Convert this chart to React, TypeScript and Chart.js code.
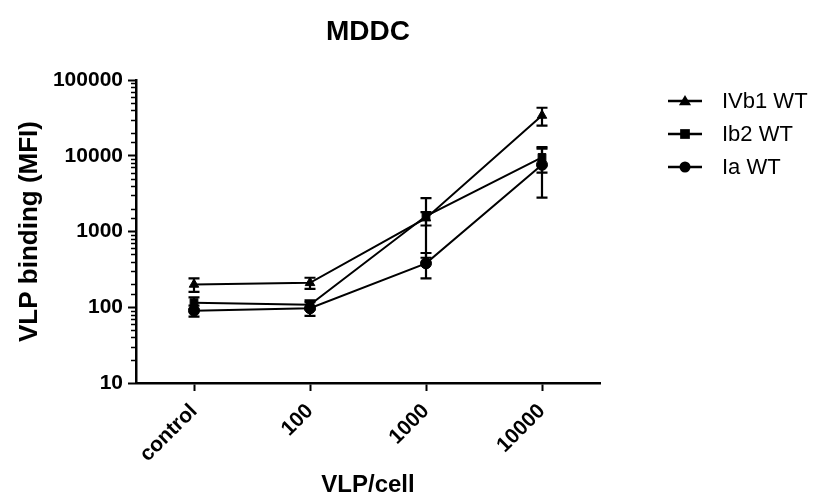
import React, { useEffect, useRef } from 'react';
import { Chart, registerables } from 'chart.js';

Chart.register(...registerables);

const categories = ['control', '100', '1000', '10000'];
const seriesNames = ['IVb1 WT', 'Ib2 WT', 'Ia WT'];
const pointStyles = ['triangle', 'rect', 'circle'];
const ivb1Values = [200, 210, 1500, 34000];
const ivb1Errors = [40, 35, 300, 9000];
const ib2Values = [115, 108, 1600, 9500];
const ib2Errors = [20, 15, 1150, 3500];
const iaValues = [90, 97, 380, 7600];
const iaErrors = [15, 20, 140, 4800];

const FONT = "'Liberation Sans', Arial, Helvetica, sans-serif";

const isPow10 = (v: number) => {
  const l = Math.log10(v);
  return Math.abs(l - Math.round(l)) < 1e-9;
};

function drawMarker(ctx: CanvasRenderingContext2D, style: string, x: number, y: number, r: number) {
  ctx.beginPath();
  if (style === 'circle') {
    ctx.arc(x, y, r, 0, Math.PI * 2);
  } else if (style === 'rect') {
    const s = r * Math.SQRT1_2 * 1.25;
    ctx.rect(x - s, y - s, s * 2, s * 2);
  } else {
    const h = r * 1.1;
    ctx.moveTo(x, y - h);
    ctx.lineTo(x + h, y + h * 0.7);
    ctx.lineTo(x - h, y + h * 0.7);
    ctx.closePath();
  }
  ctx.fill();
}

const errorBarPlugin = {
  id: 'errorBars',
  afterDatasetsDraw(chart: any) {
    const ctx = chart.ctx;
    const yScale = chart.scales.y;
    chart.data.datasets.forEach((ds: any, di: number) => {
      const meta = chart.getDatasetMeta(di);
      meta.data.forEach((pt: any, i: number) => {
        const v = ds.data[i];
        const e = ds.errors[i];
        const yTop = yScale.getPixelForValue(v + e);
        const yBot = yScale.getPixelForValue(Math.max(v - e, 1e-6));
        ctx.save();
        ctx.strokeStyle = '#000';
        ctx.lineWidth = 2.2;
        ctx.beginPath();
        ctx.moveTo(pt.x, yTop);
        ctx.lineTo(pt.x, yBot);
        ctx.moveTo(pt.x - 5.5, yTop);
        ctx.lineTo(pt.x + 5.5, yTop);
        ctx.moveTo(pt.x - 5.5, yBot);
        ctx.lineTo(pt.x + 5.5, yBot);
        ctx.stroke();
        ctx.restore();
      });
    });
  },
};

const minorTickPlugin = {
  id: 'minorTicks',
  afterDraw(chart: any) {
    const ctx = chart.ctx;
    const yScale = chart.scales.y;
    const left = chart.chartArea.left;
    ctx.save();
    ctx.strokeStyle = '#000';
    ctx.lineWidth = 1.5;
    yScale.ticks.forEach((t: any) => {
      if (isPow10(t.value)) return;
      const py = Math.round(yScale.getPixelForValue(t.value)) + 0.5;
      ctx.beginPath();
      ctx.moveTo(left - 5, py);
      ctx.lineTo(left, py);
      ctx.stroke();
    });
    ctx.restore();
  },
};

const legendPlugin = {
  id: 'customLegend',
  afterDraw(chart: any) {
    const ctx = chart.ctx;
    ctx.save();
    chart.data.datasets.forEach((ds: any, i: number) => {
      const y = 101 + i * 33;
      ctx.strokeStyle = '#000';
      ctx.fillStyle = '#000';
      ctx.lineWidth = 2.5;
      ctx.beginPath();
      ctx.moveTo(668, y);
      ctx.lineTo(702, y);
      ctx.stroke();
      drawMarker(ctx, ds.pointStyle, 685, y, 5.5);
      ctx.font = `22px ${FONT}`;
      ctx.textBaseline = 'middle';
      ctx.textAlign = 'left';
      ctx.fillText(ds.label, 722, y + 1);
    });
    ctx.restore();
  },
};

export default function App() {
  const canvasRef = useRef<HTMLCanvasElement | null>(null);

  useEffect(() => {
    if (!canvasRef.current) return;
    const values = [ivb1Values, ib2Values, iaValues];
    const errors = [ivb1Errors, ib2Errors, iaErrors];
    const datasets = seriesNames.map((name, i) => ({
      label: name,
      data: values[i],
      errors: errors[i],
      borderColor: '#000',
      backgroundColor: '#000',
      borderWidth: 2,
      pointStyle: pointStyles[i],
      pointRadius: 5.5,
      pointBackgroundColor: '#000',
      pointBorderColor: '#000',
      pointBorderWidth: 1,
      tension: 0,
      fill: false,
    }));

    const chart = new Chart(canvasRef.current, {
      type: 'line',
      data: { labels: categories, datasets: datasets as any },
      options: {
        animation: false,
        responsive: true,
        maintainAspectRatio: false,
        layout: { padding: { left: 0, right: 222, top: 0, bottom: 0 } },
        plugins: {
          legend: { display: false },
          tooltip: { enabled: false },
          title: {
            display: true,
            text: 'MDDC',
            fullSize: false,
            color: '#000',
            font: { family: FONT, size: 28, weight: 'bold' },
            padding: { top: 15, bottom: 31.4 },
          },
        },
        scales: {
          x: {
            type: 'category',
            offset: true,
            grid: {
              display: true,
              drawOnChartArea: false,
              offset: false,
              tickLength: 8,
              tickWidth: 2,
              tickColor: '#000',
            },
            border: { display: true, color: '#000', width: 2.5 },
            ticks: {
              color: '#000',
              font: { family: FONT, size: 21, weight: 'bold' },
              minRotation: 45,
              maxRotation: 45,
              autoSkip: false,
              padding: 8,
            },
            title: {
              display: true,
              text: 'VLP/cell',
              color: '#000',
              font: { family: FONT, size: 24, weight: 'bold' },
              padding: { top: 0, bottom: 0 },
            },
            afterFit: (s: any) => {
              s.height = 117;
            },
          },
          y: {
            type: 'logarithmic',
            min: 10,
            max: 100000,
            grid: {
              display: true,
              drawOnChartArea: false,
              tickLength: 8,
              tickWidth: 2,
              tickColor: (ctx: any) => (ctx.tick && isPow10(ctx.tick.value) ? '#000' : 'rgba(0,0,0,0)'),
            },
            border: { display: true, color: '#000', width: 2.5 },
            ticks: {
              color: '#000',
              font: { family: FONT, size: 21, weight: 'bold' },
              autoSkip: false,
              padding: 5,
              callback: (v: any) => (isPow10(Number(v)) ? String(v) : ''),
            },
            title: {
              display: true,
              text: 'VLP binding (MFI)',
              color: '#000',
              font: { family: FONT, size: 26, weight: 'bold' },
              padding: { top: 14, bottom: 0 },
            },
            afterFit: (s: any) => {
              s.width = 136;
            },
          },
        },
      } as any,
      plugins: [errorBarPlugin, minorTickPlugin, legendPlugin],
    });
    return () => chart.destroy();
  }, []);

  return (
    <div style={{ position: 'fixed', left: 0, top: 0, width: 822, height: 500, background: '#fff' }}>
      <canvas ref={canvasRef} />
    </div>
  );
}
